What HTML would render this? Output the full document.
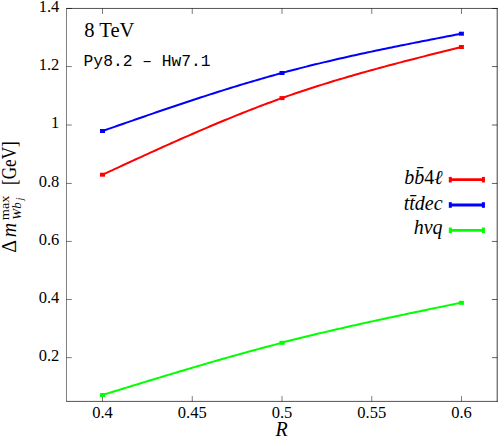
<!DOCTYPE html>
<html><head><meta charset="utf-8"><title>plot</title>
<style>
html,body{margin:0;padding:0;background:#fff;}
body{width:498px;height:438px;overflow:hidden;}
svg{display:block;}
text{fill:#000;stroke:none;}
.r{font-family:"Liberation Serif",serif;}
.i{font-family:"Liberation Serif",serif;font-style:italic;}
.m{font-family:"Liberation Mono",monospace;}
</style></head>
<body>
<svg width="498" height="438" viewBox="0 0 498 438">
<rect x="0" y="0" width="498" height="438" fill="#fff"/>
<g stroke="#000" fill="none">
<line x1="66.25" y1="8.45" x2="498" y2="8.45" stroke-width="0.68"/><line x1="66.25" y1="401.4" x2="498" y2="401.4" stroke-width="0.68"/>
<line x1="66.5" y1="8.45" x2="66.5" y2="401.4" stroke-width="0.5"/><line x1="497.2" y1="8.45" x2="497.2" y2="401.4" stroke-width="0.75"/>
<g stroke-width="0.52">
<line x1="102.5" y1="401.4" x2="102.5" y2="396.10"/><line x1="102.5" y1="8.45" x2="102.5" y2="13.95"/>
<line x1="192.25" y1="401.4" x2="192.25" y2="396.10"/><line x1="192.25" y1="8.45" x2="192.25" y2="13.95"/>
<line x1="282.0" y1="401.4" x2="282.0" y2="396.10"/><line x1="282.0" y1="8.45" x2="282.0" y2="13.95"/>
<line x1="371.75" y1="401.4" x2="371.75" y2="396.10"/><line x1="371.75" y1="8.45" x2="371.75" y2="13.95"/>
<line x1="461.5" y1="401.4" x2="461.5" y2="396.10"/><line x1="461.5" y1="8.45" x2="461.5" y2="13.95"/>
<line x1="66.5" y1="8.5" x2="71.80" y2="8.5"/><line x1="497.2" y1="8.5" x2="491.90" y2="8.5" stroke-width="0.62"/>
<line x1="66.5" y1="66.55" x2="71.80" y2="66.55"/><line x1="497.2" y1="66.55" x2="491.90" y2="66.55" stroke-width="0.62"/>
<line x1="66.5" y1="125.0" x2="71.80" y2="125.0"/><line x1="497.2" y1="125.0" x2="491.90" y2="125.0" stroke-width="0.62"/>
<line x1="66.5" y1="183.45" x2="71.80" y2="183.45"/><line x1="497.2" y1="183.45" x2="491.90" y2="183.45" stroke-width="0.62"/>
<line x1="66.5" y1="241.45" x2="71.80" y2="241.45"/><line x1="497.2" y1="241.45" x2="491.90" y2="241.45" stroke-width="0.62"/>
<line x1="66.5" y1="299.5" x2="71.80" y2="299.5"/><line x1="497.2" y1="299.5" x2="491.90" y2="299.5" stroke-width="0.62"/>
<line x1="66.5" y1="357.65" x2="71.80" y2="357.65"/><line x1="497.2" y1="357.65" x2="491.90" y2="357.65" stroke-width="0.62"/>
</g></g>
<path d="M102.50,174.70 L105.49,173.32 L108.48,171.93 L111.47,170.55 L114.47,169.17 L117.46,167.79 L120.45,166.41 L123.44,165.03 L126.43,163.65 L129.43,162.28 L132.42,160.90 L135.41,159.53 L138.40,158.16 L141.39,156.79 L144.38,155.42 L147.38,154.06 L150.37,152.69 L153.36,151.34 L156.35,149.98 L159.34,148.63 L162.33,147.28 L165.32,145.93 L168.32,144.59 L171.31,143.25 L174.30,141.92 L177.29,140.59 L180.28,139.26 L183.28,137.94 L186.27,136.63 L189.26,135.32 L192.25,134.01 L195.24,132.71 L198.23,131.41 L201.23,130.12 L204.22,128.84 L207.21,127.56 L210.20,126.29 L213.19,125.03 L216.18,123.77 L219.18,122.52 L222.17,121.27 L225.16,120.03 L228.15,118.80 L231.14,117.58 L234.13,116.37 L237.12,115.16 L240.12,113.96 L243.11,112.77 L246.10,111.58 L249.09,110.41 L252.08,109.24 L255.07,108.09 L258.07,106.94 L261.06,105.80 L264.05,104.67 L267.04,103.55 L270.03,102.44 L273.02,101.34 L276.02,100.25 L279.01,99.17 L282.00,98.04 L285.04,96.96 L288.08,95.90 L291.13,94.84 L294.17,93.80 L297.21,92.76 L300.25,91.74 L303.30,90.72 L306.34,89.72 L309.38,88.72 L312.42,87.74 L315.47,86.76 L318.51,85.79 L321.55,84.83 L324.59,83.88 L327.64,82.94 L330.68,82.01 L333.72,81.08 L336.76,80.16 L339.81,79.25 L342.85,78.35 L345.89,77.45 L348.93,76.56 L351.97,75.68 L355.02,74.81 L358.06,73.94 L361.10,73.08 L364.14,72.22 L367.19,71.37 L370.23,70.53 L373.27,69.69 L376.31,68.85 L379.36,68.03 L382.40,67.20 L385.44,66.38 L388.48,65.57 L391.53,64.76 L394.57,63.96 L397.61,63.15 L400.65,62.36 L403.69,61.56 L406.74,60.77 L409.78,59.99 L412.82,59.20 L415.86,58.42 L418.91,57.65 L421.95,56.87 L424.99,56.10 L428.03,55.33 L431.08,54.56 L434.12,53.79 L437.16,53.03 L440.20,52.27 L443.25,51.50 L446.29,50.74 L449.33,49.98 L452.37,49.22 L455.42,48.47 L458.46,47.71 L461.50,46.95" fill="none" stroke="#ff0000" stroke-width="2" stroke-linejoin="round"/>
<rect x="100.0" y="172.7" width="5" height="4" fill="#ff0000"/>
<rect x="279.5" y="96.1" width="5" height="4" fill="#ff0000"/>
<rect x="458.9" y="45.0" width="5" height="4" fill="#ff0000"/>
<path d="M102.50,131.00 L105.49,129.96 L108.48,128.91 L111.47,127.87 L114.47,126.82 L117.46,125.78 L120.45,124.74 L123.44,123.70 L126.43,122.65 L129.43,121.61 L132.42,120.58 L135.41,119.54 L138.40,118.50 L141.39,117.47 L144.38,116.44 L147.38,115.40 L150.37,114.38 L153.36,113.35 L156.35,112.32 L159.34,111.30 L162.33,110.28 L165.32,109.26 L168.32,108.25 L171.31,107.24 L174.30,106.23 L177.29,105.22 L180.28,104.22 L183.28,103.22 L186.27,102.23 L189.26,101.23 L192.25,100.25 L195.24,99.26 L198.23,98.28 L201.23,97.31 L204.22,96.33 L207.21,95.37 L210.20,94.40 L213.19,93.45 L216.18,92.49 L219.18,91.55 L222.17,90.60 L225.16,89.66 L228.15,88.73 L231.14,87.80 L234.13,86.88 L237.12,85.97 L240.12,85.06 L243.11,84.15 L246.10,83.25 L249.09,82.36 L252.08,81.48 L255.07,80.60 L258.07,79.72 L261.06,78.86 L264.05,78.00 L267.04,77.15 L270.03,76.30 L273.02,75.47 L276.02,74.64 L279.01,73.81 L282.00,72.95 L285.04,72.13 L288.08,71.32 L291.13,70.52 L294.17,69.72 L297.21,68.93 L300.25,68.15 L303.30,67.37 L306.34,66.61 L309.38,65.84 L312.42,65.09 L315.47,64.34 L318.51,63.60 L321.55,62.87 L324.59,62.14 L327.64,61.42 L330.68,60.70 L333.72,59.99 L336.76,59.29 L339.81,58.59 L342.85,57.90 L345.89,57.21 L348.93,56.53 L351.97,55.85 L355.02,55.18 L358.06,54.51 L361.10,53.84 L364.14,53.19 L367.19,52.53 L370.23,51.88 L373.27,51.23 L376.31,50.59 L379.36,49.95 L382.40,49.32 L385.44,48.69 L388.48,48.06 L391.53,47.44 L394.57,46.81 L397.61,46.20 L400.65,45.58 L403.69,44.97 L406.74,44.36 L409.78,43.75 L412.82,43.14 L415.86,42.54 L418.91,41.94 L421.95,41.34 L424.99,40.74 L428.03,40.15 L431.08,39.55 L434.12,38.96 L437.16,38.37 L440.20,37.78 L443.25,37.19 L446.29,36.60 L449.33,36.01 L452.37,35.42 L455.42,34.84 L458.46,34.25 L461.50,33.66" fill="none" stroke="#0000ff" stroke-width="2" stroke-linejoin="round"/>
<rect x="100.0" y="129.0" width="5" height="4" fill="#0000ff"/>
<rect x="279.5" y="71.0" width="5" height="4" fill="#0000ff"/>
<rect x="458.9" y="31.7" width="5" height="4" fill="#0000ff"/>
<path d="M102.50,395.00 L105.49,394.08 L108.48,393.16 L111.47,392.24 L114.47,391.32 L117.46,390.40 L120.45,389.48 L123.44,388.56 L126.43,387.64 L129.43,386.72 L132.42,385.81 L135.41,384.89 L138.40,383.97 L141.39,383.06 L144.38,382.15 L147.38,381.24 L150.37,380.32 L153.36,379.42 L156.35,378.51 L159.34,377.60 L162.33,376.70 L165.32,375.79 L168.32,374.89 L171.31,373.99 L174.30,373.10 L177.29,372.20 L180.28,371.31 L183.28,370.42 L186.27,369.53 L189.26,368.64 L192.25,367.76 L195.24,366.87 L198.23,366.00 L201.23,365.12 L204.22,364.25 L207.21,363.38 L210.20,362.51 L213.19,361.64 L216.18,360.78 L219.18,359.93 L222.17,359.07 L225.16,358.22 L228.15,357.37 L231.14,356.53 L234.13,355.69 L237.12,354.85 L240.12,354.02 L243.11,353.19 L246.10,352.36 L249.09,351.54 L252.08,350.72 L255.07,349.91 L258.07,349.10 L261.06,348.30 L264.05,347.50 L267.04,346.70 L270.03,345.91 L273.02,345.13 L276.02,344.35 L279.01,343.57 L282.00,342.61 L285.04,341.83 L288.08,341.05 L291.13,340.29 L294.17,339.52 L297.21,338.76 L300.25,338.01 L303.30,337.26 L306.34,336.52 L309.38,335.78 L312.42,335.04 L315.47,334.31 L318.51,333.58 L321.55,332.86 L324.59,332.14 L327.64,331.43 L330.68,330.72 L333.72,330.01 L336.76,329.31 L339.81,328.61 L342.85,327.91 L345.89,327.22 L348.93,326.53 L351.97,325.85 L355.02,325.17 L358.06,324.49 L361.10,323.81 L364.14,323.14 L367.19,322.47 L370.23,321.80 L373.27,321.13 L376.31,320.47 L379.36,319.81 L382.40,319.15 L385.44,318.50 L388.48,317.85 L391.53,317.19 L394.57,316.55 L397.61,315.90 L400.65,315.25 L403.69,314.61 L406.74,313.97 L409.78,313.33 L412.82,312.69 L415.86,312.05 L418.91,311.42 L421.95,310.78 L424.99,310.15 L428.03,309.52 L431.08,308.89 L434.12,308.26 L437.16,307.63 L440.20,307.00 L443.25,306.37 L446.29,305.74 L449.33,305.12 L452.37,304.49 L455.42,303.86 L458.46,303.24 L461.50,302.61" fill="none" stroke="#00ff00" stroke-width="2" stroke-linejoin="round"/>
<rect x="100.0" y="393.0" width="5" height="4" fill="#00ff00"/>
<rect x="279.5" y="340.8" width="5" height="4" fill="#00ff00"/>
<rect x="458.9" y="300.8" width="5" height="4" fill="#00ff00"/>
<line x1="449" y1="179.7" x2="484.6" y2="179.7" stroke="#ff0000" stroke-width="2.8"/><rect x="448.8" y="176.9" width="3" height="5.6" fill="#ff0000"/><rect x="481.9" y="176.9" width="3" height="5.6" fill="#ff0000"/>
<line x1="449" y1="205.0" x2="484.6" y2="205.0" stroke="#0000ff" stroke-width="2.8"/><rect x="448.8" y="202.2" width="3" height="5.6" fill="#0000ff"/><rect x="481.9" y="202.2" width="3" height="5.6" fill="#0000ff"/>
<line x1="449" y1="230.3" x2="484.6" y2="230.3" stroke="#00ff00" stroke-width="2.8"/><rect x="448.8" y="227.5" width="3" height="5.6" fill="#00ff00"/><rect x="481.9" y="227.5" width="3" height="5.6" fill="#00ff00"/>
<text class="r" x="102.5" y="418" font-size="16.5" text-anchor="middle">0.4</text>
<text class="r" x="192.25" y="418" font-size="16.5" text-anchor="middle">0.45</text>
<text class="r" x="282.0" y="418" font-size="16.5" text-anchor="middle">0.5</text>
<text class="r" x="371.75" y="418" font-size="16.5" text-anchor="middle">0.55</text>
<text class="r" x="461.5" y="418" font-size="16.5" text-anchor="middle">0.6</text>
<text class="r" x="59.3" y="12.0" font-size="16.5" text-anchor="end">1.4</text>
<text class="r" x="59.3" y="70.2" font-size="16.5" text-anchor="end">1.2</text>
<text class="r" x="59.3" y="128.4" font-size="16.5" text-anchor="end">1</text>
<text class="r" x="59.3" y="186.6" font-size="16.5" text-anchor="end">0.8</text>
<text class="r" x="59.3" y="244.8" font-size="16.5" text-anchor="end">0.6</text>
<text class="r" x="59.3" y="303.0" font-size="16.5" text-anchor="end">0.4</text>
<text class="r" x="59.3" y="361.2" font-size="16.5" text-anchor="end">0.2</text>
<text class="r" x="84.2" y="36.5" font-size="20" textLength="50.2" lengthAdjust="spacingAndGlyphs">8 TeV</text>
<text class="m" x="83.6" y="65.9" font-size="17.2" textLength="127" lengthAdjust="spacingAndGlyphs">Py8.2 &#8211; Hw7.1</text>
<text class="i" x="442.6" y="184.2" font-size="20" text-anchor="end">bb&#772;<tspan font-style="normal">4</tspan>&#8467;</text>
<text class="i" x="442.6" y="209.5" font-size="20" text-anchor="end">tt&#772;dec</text>
<text class="i" x="442.6" y="234.2" font-size="20" text-anchor="end">hvq</text>
<text class="i" x="281.7" y="436.2" font-size="20" text-anchor="middle">R</text>
<g transform="translate(15.8,252.7) rotate(-90)">
<text class="r" x="0" y="0" font-size="20">&#916;</text>
<text class="i" x="15.5" y="0" font-size="20">m</text>
<text class="r" x="32.5" y="-7" font-size="13" textLength="24.6" lengthAdjust="spacingAndGlyphs">max</text>
<text class="i" x="33" y="5.5" font-size="13">Wb</text>
<text class="i" x="52.5" y="7.5" font-size="9.5">j</text>
<text class="r" x="67.8" y="0" font-size="20" textLength="43.6" lengthAdjust="spacingAndGlyphs">[GeV]</text>
</g>
</svg>
</body></html>
